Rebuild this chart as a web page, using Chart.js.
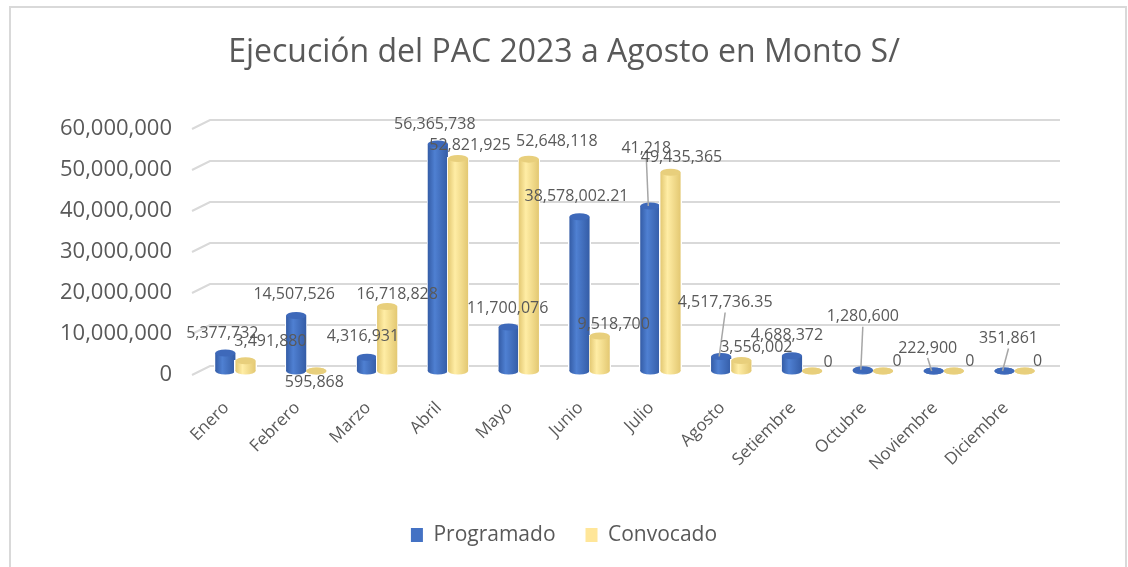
<!DOCTYPE html>
<html>
<head>
<meta charset="utf-8">
<script src="https://cdn.jsdelivr.net/npm/chart.js@4.4.0/dist/chart.umd.min.js"></script>
<style>
  html, body { margin: 0; padding: 0; background: #fff; overflow: hidden; }
  #marco { position: absolute; left: 9px; top: 6px; width: 1114px; height: 590px; border: 2px solid #d9d9d9; }
  #lienzo { position: absolute; left: 0; top: 0; width: 1128px; height: 567px; }
</style>
</head>
<body>
<div id="marco"></div>
<div id="lienzo"><canvas id="pac"></canvas></div>
<script>
// datos del PAC 2023
const meses = ['Enero', 'Febrero', 'Marzo', 'Abril', 'Mayo', 'Junio', 'Julio', 'Agosto', 'Setiembre', 'Octubre', 'Noviembre', 'Diciembre'];
const programado = [5377732, 14507526, 4316931, 56365738, 11700076, 38578002.21, 41218000, 4517736.35, 4688372, 1280600, 222900, 351861];
const convocado = [3491880, 595868, 16718828, 52821925, 52648118, 9518700, 49435365, 3556002, 0, 0, 0, 0];
const etiquetasProgramado = ['5,377,732', '14,507,526', '4,316,931', '56,365,738', '11,700,076', '38,578,002.21', '41,218', '4,517,736.35', '4,688,372', '1,280,600', '222,900', '351,861'];
const etiquetasConvocado = ['3,491,880', '595,868', '16,718,828', '52,821,925', '52,648,118', '9,518,700', '49,435,365', '3,556,002', '0', '0', '0', '0'];
const ticksY = [0, 10000000, 20000000, 30000000, 40000000, 50000000, 60000000];

const GRIS = '#595959';
const FUENTE = "'Open Sans', sans-serif";

// posición de cada etiqueta respecto al tope de la barra [dx, dy, guía]
const desplazamientos = [
  [[-3, -20], [-2, -21], [-4, -21], [-3, -19], [-1, -19], [-3, -20], [-4, -58, 1], [4, -54, 1], [-5, -20], [0, -53, 1], [-6, -26, 1], [4, -35, 1]],
  [[25, -19], [-2, 10], [10, -12], [12, -13], [28, -18], [14, -12], [11, -15], [15, -13], [16, -13], [14, -14], [16, -14], [13, -14]],
];
const tonos = [
  { borde: '#345ca6', centro: '#4f80d2', tapa: '#3e69ba' },
  { borde: '#e3c872', centro: '#ffeda5', tapa: '#e8cf7c' },
];

// rejilla con perspectiva
const rejilla = {
  id: 'rejilla',
  beforeDatasetsDraw(chart) {
    const { ctx, chartArea, scales } = chart;
    ctx.save();
    ctx.strokeStyle = '#d9d9d9';
    ctx.lineWidth = 2;
    ticksY.forEach((v) => {
      const y = scales.y.getPixelForValue(v);
      ctx.beginPath();
      ctx.moveTo(chartArea.left - 8, y);
      ctx.lineTo(chartArea.left + 10, y - 9);
      ctx.lineTo(chartArea.right + 10, y - 9);
      ctx.stroke();
    });
    ctx.restore();
  },
};

// barras como cilindros + etiquetas
const cilindros = {
  id: 'cilindros',
  afterDatasetsDraw(chart) {
    const { ctx } = chart;
    ctx.save();
    chart.data.datasets.forEach((ds, di) => {
      const t = tonos[di];
      chart.getDatasetMeta(di).data.forEach((bar) => {
        const w = bar.width, l = bar.x - w / 2, top = bar.y, base = bar.base;
        const piso = base - 4;
        const g = ctx.createLinearGradient(l, 0, l + w, 0);
        g.addColorStop(0, t.borde);
        g.addColorStop(0.35, t.centro);
        g.addColorStop(1, t.borde);
        ctx.clearRect(l - 1, top - 1, w + 2, base - top + 2);
        ctx.fillStyle = g;
        ctx.beginPath();
        ctx.ellipse(bar.x, piso, w / 2, 3.5, 0, 0, Math.PI * 2);
        ctx.fill();
        if (piso > top) ctx.fillRect(l, top, w, piso - top);
        ctx.fillStyle = t.tapa;
        ctx.beginPath();
        ctx.ellipse(bar.x, Math.min(top, piso), w / 2, 3.5, 0, 0, Math.PI * 2);
        ctx.fill();
      });
    });
    // etiquetas
    ctx.font = '16px ' + FUENTE;
    ctx.fillStyle = GRIS;
    ctx.textAlign = 'center';
    ctx.textBaseline = 'middle';
    const textos = [etiquetasProgramado, etiquetasConvocado];
    chart.data.datasets.forEach((ds, di) => {
      chart.getDatasetMeta(di).data.forEach((bar, i) => {
        const [dx, dy, guia] = desplazamientos[di][i];
        const x = bar.x + dx, y = bar.y + dy;
        if (guia) {
          ctx.strokeStyle = '#a6a6a6';
          ctx.lineWidth = 1.5;
          ctx.beginPath();
          ctx.moveTo(x, y + 10);
          ctx.lineTo(bar.x - 2, Math.min(bar.y, bar.base - 4));
          ctx.stroke();
        }
        ctx.fillText(textos[di][i], x, y);
      });
    });
    ctx.restore();
  },
};

new Chart(document.getElementById('pac'), {
  type: 'bar',
  data: {
    labels: meses,
    datasets: [
      { label: 'Programado', data: programado, backgroundColor: '#4472c4' },
      { label: 'Convocado', data: convocado, backgroundColor: '#ffe699' },
    ],
  },
  options: {
    responsive: true, maintainAspectRatio: false,
    animation: false,
    categoryPercentage: 0.57, barPercentage: 1,
    layout: { padding: { left: 0, right: 0, top: 0, bottom: 11.5 } },
    plugins: {
      title: {
        display: true,
        text: 'Ejecución del PAC 2023 a Agosto en Monto S/',
        color: GRIS,
        font: { family: FUENTE, size: 32, weight: 'normal' },
        padding: { top: 33.8, bottom: 56.8 },
      },
      legend: {
        position: 'bottom',
        labels: { color: GRIS, boxWidth: 12, boxHeight: 14, padding: 30, font: { family: FUENTE, size: 21 } },
      },
      tooltip: { enabled: false },
    },
    scales: {
      x: {
        grid: { display: false }, border: { display: false },
        ticks: { color: GRIS, maxRotation: 45, minRotation: 45, padding: 15, labelOffset: -9, font: { family: FUENTE, size: 17 } },
        afterFit: (s) => { s.height = 119.5; },
      },
      y: {
        min: 0, max: 60000000,
        grid: { display: false, drawTicks: false }, border: { display: false },
        ticks: {
          stepSize: 10000000, padding: 28, color: GRIS, font: { family: FUENTE, size: 22 },
          callback: (v) => v.toLocaleString('en-US'),
        },
        afterFit: (s) => { s.width = 200; },
      },
      derecha: {
        position: 'right', display: true,
        grid: { display: false }, border: { display: false },
        ticks: { display: false },
        afterFit: (s) => { s.width = 78; },
      },
    },
  },
  plugins: [rejilla, cilindros],
});
</script>
</body>
</html>
